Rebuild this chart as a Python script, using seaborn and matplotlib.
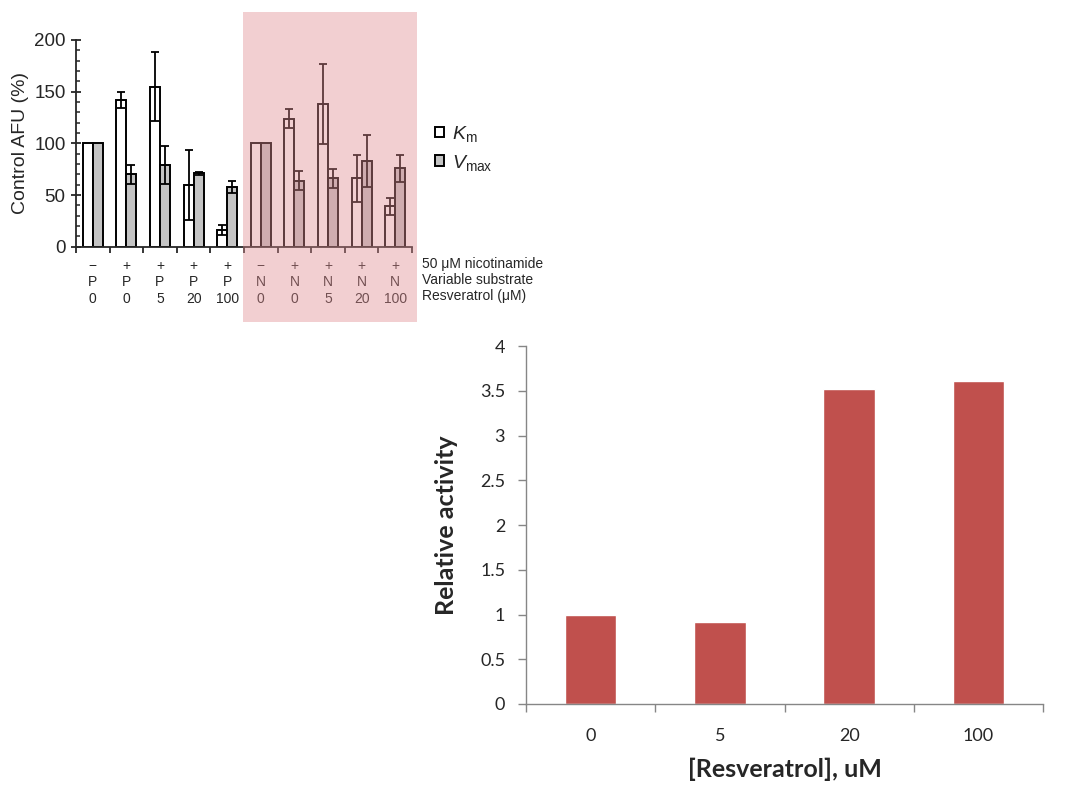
import numpy as np
import pandas as pd
import matplotlib
matplotlib.use("Agg")
import matplotlib.pyplot as plt
import seaborn as sns
from matplotlib.patches import Rectangle
from matplotlib.ticker import MultipleLocator, FixedLocator, FuncFormatter

# ---------------- Top panel data ----------------
nicotinamide = ["\u2212", "+", "+", "+", "+", "\u2212", "+", "+", "+", "+"]
substrate = ["P", "P", "P", "P", "P", "N", "N", "N", "N", "N"]
resveratrol = ["0", "0", "5", "20", "100", "0", "0", "5", "20", "100"]
km_mean = [100, 142, 155, 60, 16, 100, 124, 138, 66, 39]
km_err = [0, 8, 33, 34, 5, 0, 9, 39, 23, 8]
vmax_mean = [100, 70, 79, 71, 58, 100, 64, 66, 83, 76]
vmax_err = [0, 9, 18, 1.2, 6, 0, 9, 9, 25, 13]
row_labels = ["50 \u03bcM nicotinamide", "Variable substrate", "Resveratrol (\u03bcM)"]

# ---------------- Bottom panel data ----------------
res_conc = ["0", "5", "20", "100"]
rel_activity = [1.0, 0.92, 3.52, 3.61]

sns.set_style("ticks")
plt.rcParams['font.family'] = ['Liberation Sans', 'DejaVu Sans']
plt.rcParams['mathtext.fontset'] = 'custom'
plt.rcParams['mathtext.rm'] = 'Liberation Sans'
plt.rcParams['mathtext.it'] = 'Liberation Sans:italic'

W, H = 1068, 793
fig = plt.figure(figsize=(W / 100, H / 100), dpi=100)


def ax_rect(l, t, r, b):
    return [l / W, 1 - b / H, (r - l) / W, (b - t) / H]


# ================= Top panel =================
ax1 = fig.add_axes(ax_rect(76, 40, 412, 246.7))
groups = [f"g{i}" for i in range(len(km_mean))]
df = pd.DataFrame({
    "group": groups * 2,
    "measure": ["Km"] * len(groups) + ["Vmax"] * len(groups),
    "value": km_mean + vmax_mean,
})
sns.barplot(data=df, x="group", y="value", hue="measure", order=groups,
            hue_order=["Km", "Vmax"], palette={"Km": "white", "Vmax": "#c4c4c4"},
            edgecolor="black", linewidth=1.4, width=0.6, errorbar=None,
            saturation=1, ax=ax1)

for cont, means, errs in zip(ax1.containers, [km_mean, vmax_mean], [km_err, vmax_err]):
    for p, m, e in zip(cont, means, errs):
        if e > 0:
            x = p.get_x() + p.get_width() / 2
            ax1.errorbar(x, m, yerr=e, fmt='none', ecolor='black',
                         elinewidth=1.3, capsize=2.6, capthick=1.3, zorder=5)

ax1.set_xlim(-0.5, len(groups) - 0.5)
ax1.set_ylim(0, 200)
sns.despine(ax=ax1)
for s in ["left", "bottom"]:
    ax1.spines[s].set_linewidth(1.3)
ax1.yaxis.set_major_locator(MultipleLocator(50))
ax1.yaxis.set_minor_locator(MultipleLocator(10))
ax1.tick_params(axis='y', which='major', direction='inout', length=7, width=1.3,
                labelsize=13.5, pad=4)
ax1.tick_params(axis='y', which='minor', direction='in', length=3, width=1.1)
ax1.set_xticks(range(len(groups)))
ax1.set_xticklabels([f"{a}\n{b}\n{c}" for a, b, c in zip(nicotinamide, substrate, resveratrol)],
                    fontsize=10, linespacing=1.2)
ax1.xaxis.set_minor_locator(FixedLocator(np.arange(-0.5, len(groups), 1.0)))
ax1.tick_params(axis='x', which='major', length=0, pad=9)
ax1.tick_params(axis='x', which='minor', direction='out', length=4, width=1.3)
ax1.set_xlabel("")
ax1.set_ylabel("Control AFU (%)", fontsize=14, labelpad=4)

handles, _ = ax1.get_legend_handles_labels()
ax1.legend(handles, [r"$\mathit{K}_{\mathrm{m}}$", r"$\mathit{V}_{\mathrm{max}}$"],
           loc='upper left', bbox_to_anchor=(427 / W, 1 - 116 / H),
           bbox_transform=fig.transFigure, frameon=False, fontsize=14,
           handlelength=0.45, handleheight=0.45, handletextpad=0.45, labelspacing=0.45,
           borderaxespad=0)

fig.text(422 / W, 1 - 257 / H, "\n".join(row_labels), fontsize=10,
         ha='left', va='top', linespacing=1.2)

# pink translucent highlight over the N-substrate half
fig.add_artist(Rectangle((243 / W, 1 - 322 / H), (417 - 243) / W, (322 - 12) / H,
                         transform=fig.transFigure, facecolor=(0.88, 0.55, 0.57),
                         alpha=0.41, edgecolor='none', zorder=10))

# ================= Bottom panel =================
ax2 = fig.add_axes(ax_rect(526, 346, 1043, 704))
df2 = pd.DataFrame({"conc": res_conc, "activity": rel_activity})
sns.barplot(data=df2, x="conc", y="activity", order=res_conc, color="#C0504D",
            saturation=1, width=0.4, errorbar=None, ax=ax2)
ax2.set_xlim(-0.5, len(res_conc) - 0.5)
ax2.set_ylim(0, 4)
sns.despine(ax=ax2)
for s in ["left", "bottom"]:
    ax2.spines[s].set_color("#868686")
    ax2.spines[s].set_linewidth(1.0)
ax2.yaxis.set_major_locator(MultipleLocator(0.5))
ax2.yaxis.set_major_formatter(FuncFormatter(lambda v, p: f"{v:g}"))
ax2.tick_params(axis='y', length=6, width=1, color="#868686", labelsize=13, pad=9)
ax2.xaxis.set_minor_locator(FixedLocator(np.arange(-0.5, len(res_conc), 1.0)))
ax2.tick_params(axis='x', which='major', length=0, labelsize=13, pad=17)
ax2.tick_params(axis='x', which='minor', length=6, width=1, color="#868686")
for lab in ax2.get_xticklabels() + ax2.get_yticklabels():
    lab.set_family(['Lato', 'DejaVu Sans'])
ax2.set_ylabel("Relative activity", fontsize=18, fontweight='bold',
               family=['Lato', 'DejaVu Sans'], labelpad=16)
ax2.set_xlabel("[Resveratrol], uM", fontsize=18, fontweight='bold',
               family=['Lato', 'DejaVu Sans'], labelpad=10)

fig.savefig("out.png", dpi=100)
